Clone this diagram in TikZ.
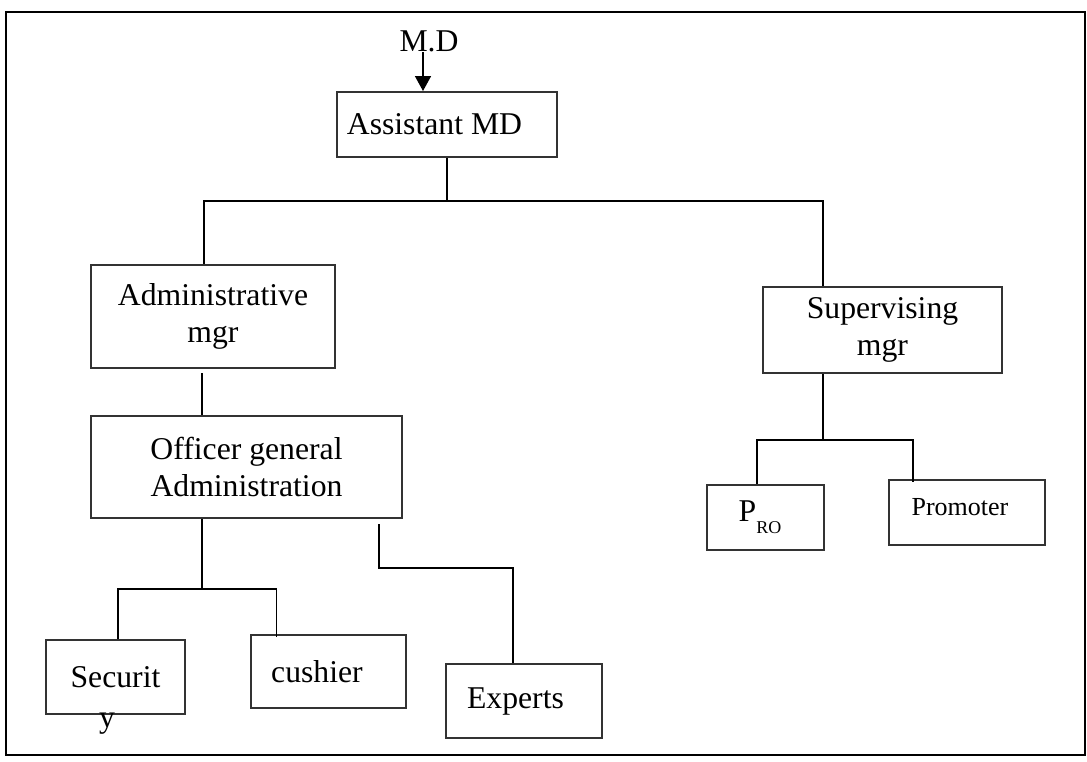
\documentclass[tikz,border=0pt]{standalone}
\usepackage{fontspec}
\setmainfont{Liberation Serif}
\usetikzlibrary{arrows.meta}
\tikzset{
  box/.style={draw=black!80, line width=1pt, inner sep=0pt, align=center,
    font=\fontsize{15.85}{18.25}\selectfont},
  link/.style={line width=0.8pt, black},
}
\begin{document}
\begin{tikzpicture}[x=0.5pt,y=-0.5pt]
\useasboundingbox (0,0) rectangle (1087,761);
\draw[line width=1.2pt] (6,12) rectangle (1085,755); % outer frame
% top of the chart
\node[font=\fontsize{15.85}{18.25}\selectfont, inner sep=0pt] (md) at (429,41) {M.D};
\node[box, minimum width=110pt, minimum height=32.5pt] (amd) at (447,124.5) {Assistant MD\hspace{12.5pt}};
% second level
\node[box, minimum width=122pt, minimum height=51.5pt] (adm) at (213,316.5) {Administrative\\mgr\hspace{12pt}};
\node[box, minimum width=119.5pt, minimum height=43pt] (sup) at (882.5,330) {Supervising\\mgr};
% third level
\node[box, minimum width=155.5pt, minimum height=51pt] (off) at (246.5,467) {Officer general\hspace{4.5pt}\\Administration\hspace{16.5pt}};
\node[box, minimum width=58.5pt, minimum height=32.5pt] (pro) at (765.5,517.5) {P\raisebox{-5.85pt}{\fontsize{9}{9}\selectfont RO}\hspace{5.5pt}};
\node[box, minimum width=78pt, minimum height=32.5pt, font=\fontsize{13}{15}\selectfont, text depth=5.5pt] (prm) at (967,512.5) {Promoter\hspace{7pt}};
% bottom level
\node[box, minimum width=69.5pt, minimum height=36.75pt,
  label={[font=\fontsize{15.85}{18.25}\selectfont, inner sep=0pt, anchor=base, xshift=-4.25pt, yshift=-6.25pt]south:y}] (sec) at (115.5,676.75) {Securit};
\node[box, minimum width=77.5pt, minimum height=36.5pt] (cus) at (328.5,671.5) {cushier\hspace{11.5pt}};
\node[box, minimum width=78pt, minimum height=37pt] (exp) at (524,701) {Experts\hspace{8.5pt}};
% connectors
\draw[link, -{Triangle[length=7.5pt,width=8pt]}] ([xshift=-3pt]md.south) -- ([xshift=-3pt]md.south |- amd.north);
\draw[link] (amd.south) -- ++(0,43) coordinate (tee);
\draw[link] ([xshift=-4.5pt]adm.north) |- (tee) -| ([xshift=-29.75pt]sup.north);
\draw[link] ([xshift=-5.5pt,yshift=-2pt]adm.south) -- ([xshift=-22.25pt]off.north);
\draw[link] ([xshift=-22.25pt]off.south) -- ++(0,70) coordinate (offtee);
\draw[link] ([xshift=1.25pt]sec.north) |- (offtee) -| ([xshift=-26pt,yshift=-1.5pt]cus.north);
\draw[link] ([xshift=66.25pt,yshift=-2.5pt]off.south) -- ++(0,44) -| ([xshift=-5.5pt]exp.north);
\draw[link] ([xshift=-29.75pt]sup.south) -- ++(0,66) coordinate (suptee);
\draw[link] ([xshift=-4.25pt]pro.north) |- (suptee) -| ([xshift=-27pt,yshift=-1.5pt]prm.north);
\end{tikzpicture}
\end{document}
